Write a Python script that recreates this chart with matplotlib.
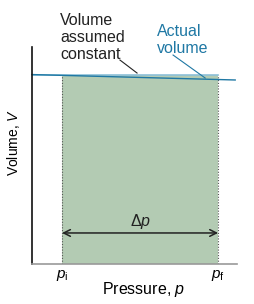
"""Constant-volume approximation: work area under V(p) between p_i and p_f."""
import matplotlib
matplotlib.use("Agg")
import matplotlib.pyplot as plt

plt.rcParams["font.family"] = ["Liberation Sans", "DejaVu Sans"]
plt.rcParams["mathtext.fontset"] = "custom"
plt.rcParams["mathtext.rm"] = "Liberation Sans"
plt.rcParams["mathtext.it"] = "Liberation Sans:italic"

# pressure limits and volumes (arbitrary units)
p_initial = 1.0
p_final = 6.2
p_max = 6.83
v_max = 10.0
v_constant = 8.69
actual_p = [0.0, 6.77]
actual_v = [8.73, 8.48]

GREEN = "#b3cbb3"
BLUE = "#1f78a4"
LIGHT_BLUE = "#8cc0d8"

fig = plt.figure(figsize=(2.55, 3.04), dpi=100)
ax = fig.add_axes([32 / 255, 40 / 304, 205 / 255, 217 / 304])
ax.set_xlim(0, p_max)
ax.set_ylim(0, v_max)

# shaded region and dotted edges
ax.fill_between([p_initial, p_final], 0, v_constant, color=GREEN, lw=0)
for p in (p_initial, p_final):
    ax.plot([p, p], [0, v_constant], ls=(0, (1, 1.5)), color="#555", lw=0.8)

# constant and actual volume lines
ax.plot([0, p_final], [v_constant, v_constant], color=LIGHT_BLUE, lw=1.2)
ax.plot(actual_p, actual_v, color=BLUE, lw=1.0, clip_on=False)

# leader lines
ax.plot([2.93, 3.5], [9.4, 8.8], color="#222", lw=0.8, clip_on=False)
ax.plot([4.7, 5.77], [9.63, 8.57], color=BLUE, lw=0.8, clip_on=False)

ax.text(0.93, 11.55, "Volume\nassumed\nconstant", fontsize=11.5, va="top",
        ha="left", linespacing=1.15, color="#222")
ax.text(4.17, 11.05, "Actual\nvolume", fontsize=11.5, va="top", ha="left",
        linespacing=1.15, color=BLUE)

# delta p arrow
ax.annotate("", xy=(p_final, 1.43), xytext=(p_initial, 1.43),
            arrowprops=dict(arrowstyle="<->", color="#222", lw=1.1,
                            shrinkA=0, shrinkB=0, mutation_scale=12))
ax.text((p_initial + p_final) / 2, 1.5, r"$\Delta\it{p}$", fontsize=11.5,
        ha="center", va="bottom", color="#222")

ax.set_xticks([p_initial, p_final])
ax.set_xticklabels([r"$\it{p}_\mathrm{i}$", r"$\it{p}_\mathrm{f}$"], fontsize=11)
ax.tick_params(axis="x", length=0, pad=3)
ax.set_yticks([])
ax.set_xlabel(r"Pressure, $\it{p}$", fontsize=11.5, labelpad=-2, x=0.546)
ax.set_ylabel(r"Volume, $\it{V}$", fontsize=10, labelpad=7, y=0.56)

for side in ("top", "right"):
    ax.spines[side].set_visible(False)
ax.spines["left"].set_color("#111")
ax.spines["left"].set_linewidth(1.2)
ax.spines["bottom"].set_color("#999")
ax.spines["bottom"].set_linewidth(1.2)

fig.savefig("out.png", dpi=100)
